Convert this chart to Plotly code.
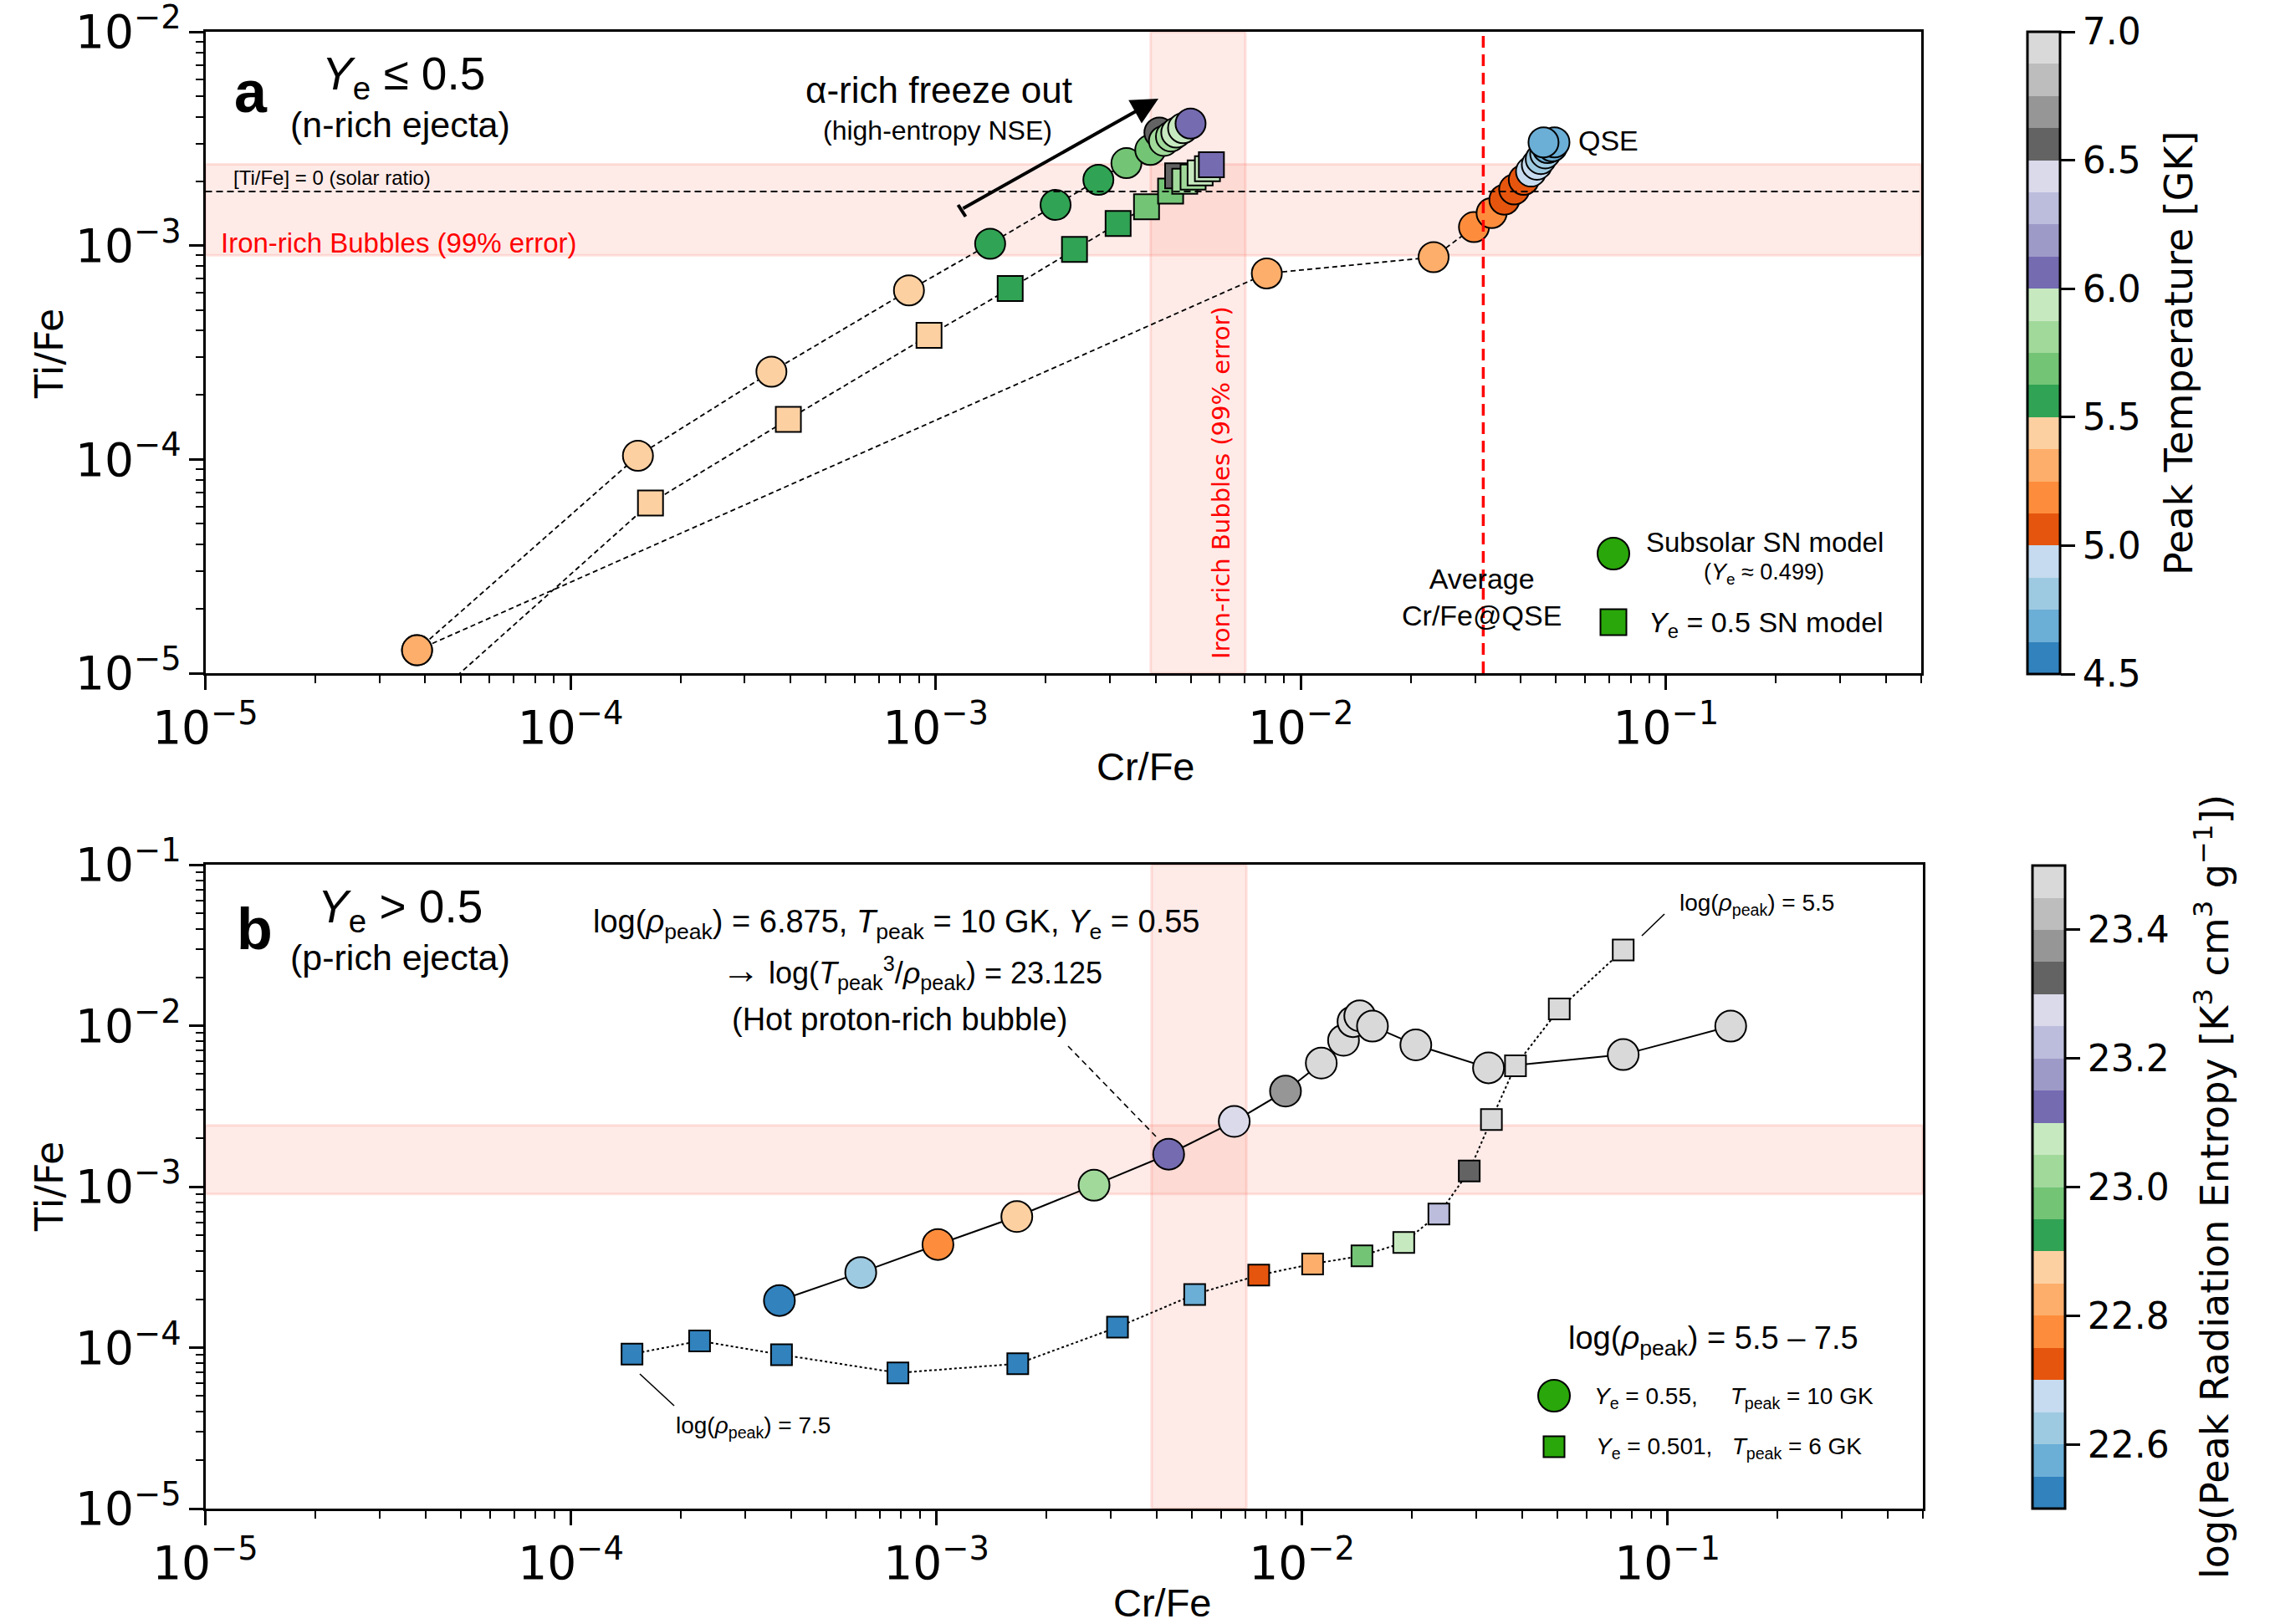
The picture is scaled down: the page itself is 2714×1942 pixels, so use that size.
import plotly.graph_objects as go

W, H = 2714, 1942

# ---------------- data ----------------
# Panel a: Ye <= 0.5
subsolar_crfe = [3.80e-5, 1.53e-4, 3.55e-4, 8.45e-4, 1.41e-3, 2.13e-3, 2.79e-3, 3.33e-3, 3.87e-3,
                 4.10e-3, 4.22e-3, 4.41e-3, 4.56e-3, 4.76e-3, 4.99e-3]
subsolar_tife = [1.28e-5, 1.04e-4, 2.57e-4, 6.17e-4, 1.02e-3, 1.55e-3, 2.03e-3, 2.43e-3, 2.80e-3,
                 3.38e-3, 3.09e-3, 3.24e-3, 3.38e-3, 3.54e-3, 3.72e-3]
subsolar_tpeak = [5.3, 5.45, 5.45, 5.45, 5.55, 5.55, 5.55, 5.7, 5.7, 6.55, 5.8, 5.8, 5.95, 5.95, 6.05]

ye05_crfe = [2.82e-5, 1.656e-4, 3.95e-4, 9.59e-4, 1.60e-3, 2.40e-3, 3.16e-3, 3.78e-3, 4.40e-3,
             4.60e-3, 4.81e-3, 5.07e-3, 5.30e-3, 5.55e-3, 5.69e-3]
ye05_tife = [4.2e-6, 6.25e-5, 1.54e-4, 3.80e-4, 6.30e-4, 9.59e-4, 1.27e-3, 1.52e-3, 1.80e-3,
             2.12e-3, 2.00e-3, 2.09e-3, 2.19e-3, 2.29e-3, 2.39e-3]
ye05_tpeak = [5.45, 5.45, 5.45, 5.45, 5.55, 5.55, 5.55, 5.7, 5.7, 6.55, 5.8, 5.8, 5.95, 5.95, 6.05]

qse_crfe = [3.80e-5, 8.07e-3, 0.0231, 0.0298, 0.0333, 0.0361, 0.0384, 0.0408, 0.0427, 0.0443,
            0.0454, 0.0467, 0.0474, 0.0488, 0.0495, 0.0462]
qse_tife = [1.28e-5, 7.41e-4, 8.83e-4, 1.22e-3, 1.42e-3, 1.64e-3, 1.83e-3, 2.03e-3, 2.22e-3, 2.39e-3,
            2.54e-3, 2.70e-3, 2.86e-3, 2.91e-3, 3.04e-3, 3.04e-3]
qse_tpeak = [5.3, 5.3, 5.3, 5.2, 5.2, 5.05, 5.05, 5.05, 4.9, 4.9, 4.8, 4.8, 4.7, 4.7, 4.7, 4.7]

# Panel b: Ye > 0.5
hot_crfe = [3.72e-4, 6.21e-4, 1.01e-3, 1.66e-3, 2.70e-3, 4.32e-3, 6.53e-3, 9.02e-3, 0.0113, 0.0130,
            0.0138, 0.0144, 0.0156, 0.0205, 0.0324, 0.0757, 0.149]
hot_tife = [1.96e-4, 2.93e-4, 4.37e-4, 6.52e-4, 1.02e-3, 1.59e-3, 2.54e-3, 3.92e-3, 5.85e-3, 8.11e-3,
            0.0106, 0.0115, 9.93e-3, 7.59e-3, 5.47e-3, 6.61e-3, 9.93e-3]
hot_entropy = [22.5, 22.625, 22.75, 22.875, 23.0, 23.125, 23.25, 23.375, 23.5, 23.625, 23.75,
               23.875, 24.0, 24.125, 24.25, 24.375, 24.5]

cool_crfe = [1.47e-4, 2.25e-4, 3.77e-4, 7.85e-4, 1.67e-3, 3.13e-3, 5.09e-3, 7.62e-3, 0.0107, 0.0146,
             0.0190, 0.0237, 0.0287, 0.0330, 0.0384, 0.0506, 0.0757]
cool_tife = [9.12e-5, 1.10e-4, 9.04e-5, 6.97e-5, 7.94e-5, 1.34e-4, 2.14e-4, 2.82e-4, 3.31e-4, 3.72e-4,
             4.50e-4, 6.76e-4, 1.25e-3, 2.61e-3, 5.64e-3, 0.0127, 0.0295]
cool_entropy = [21.834, 21.959, 22.084, 22.209, 22.334, 22.459, 22.584, 22.709, 22.834, 22.959,
                23.084, 23.209, 23.334, 23.459, 23.584, 23.709, 23.834]

# reference bands / lines
band_tife = [9.0e-4, 2.4e-3]
band_crfe = [3.88e-3, 7.05e-3]
solar_tife = 1.79e-3
qse_avg_crfe = 0.0316

tab20c = ['#3182bd', '#6baed6', '#9ecae1', '#c6dbef', '#e6550d', '#fd8d3c', '#fdae6b', '#fdd0a2',
          '#31a354', '#74c476', '#a1d99b', '#c7e9c0', '#756bb1', '#9e9ac8', '#bcbddc', '#dadaeb',
          '#636363', '#969696', '#bdbdbd', '#d9d9d9']

temp_ticks = [4.5, 5.0, 5.5, 6.0, 6.5, 7.0]
entropy_ticks = [22.6, 22.8, 23.0, 23.2, 23.4]

# ---------------- helpers ----------------
def X(p):
    return p / W


def Y(p):
    return 1 - p / H


def stepped(colors):
    n = len(colors)
    eps = 1e-4
    cs = []
    for k, c in enumerate(colors):
        lo = 0 if k == 0 else k / n - eps
        hi = 1 if k == n - 1 else (k + 1) / n - eps
        cs.append([lo, c])
        cs.append([hi, c])
    return cs


CS = stepped(tab20c)
SANS = 'Liberation Sans'
DV = 'DejaVu Sans'

fig = go.Figure()

dash_line = dict(color='black', width=1.8, dash='6px,4px')

# panel a lines
for xs, ys in [(subsolar_crfe, subsolar_tife), (ye05_crfe, ye05_tife), (qse_crfe, qse_tife)]:
    fig.add_trace(go.Scatter(x=xs, y=ys, mode='lines', line=dash_line, xaxis='x', yaxis='y',
                             hoverinfo='skip', showlegend=False))
# panel a markers
fig.add_trace(go.Scatter(x=subsolar_crfe, y=subsolar_tife, mode='markers', xaxis='x', yaxis='y',
                         marker=dict(symbol='circle', size=36, color=subsolar_tpeak, coloraxis='coloraxis',
                                     line=dict(color='black', width=2)), showlegend=False))
fig.add_trace(go.Scatter(x=ye05_crfe, y=ye05_tife, mode='markers', xaxis='x', yaxis='y',
                         marker=dict(symbol='square', size=30, color=ye05_tpeak, coloraxis='coloraxis',
                                     line=dict(color='black', width=2)), showlegend=False))
fig.add_trace(go.Scatter(x=qse_crfe, y=qse_tife, mode='markers', xaxis='x', yaxis='y',
                         marker=dict(symbol='circle', size=36, color=qse_tpeak, coloraxis='coloraxis',
                                     line=dict(color='black', width=2)), showlegend=False))

# panel b
fig.add_trace(go.Scatter(x=hot_crfe, y=hot_tife, mode='lines', xaxis='x2', yaxis='y2',
                         line=dict(color='black', width=2), hoverinfo='skip', showlegend=False))
fig.add_trace(go.Scatter(x=cool_crfe, y=cool_tife, mode='lines', xaxis='x2', yaxis='y2',
                         line=dict(color='black', width=2, dash='dot'), hoverinfo='skip', showlegend=False))
fig.add_trace(go.Scatter(x=hot_crfe, y=hot_tife, mode='markers', xaxis='x2', yaxis='y2',
                         marker=dict(symbol='circle', size=37, color=hot_entropy, coloraxis='coloraxis2',
                                     line=dict(color='black', width=2)), showlegend=False))
fig.add_trace(go.Scatter(x=cool_crfe, y=cool_tife, mode='markers', xaxis='x2', yaxis='y2',
                         marker=dict(symbol='square', size=25, color=cool_entropy, coloraxis='coloraxis2',
                                     line=dict(color='black', width=2)), showlegend=False))

# ---------------- axes ----------------
def axis_common():
    return dict(type='log', showgrid=False, zeroline=False, showline=True, linecolor='black', linewidth=3,
                mirror=True, ticks='outside', ticklen=17, tickwidth=3, tickcolor='black',
                dtick=1, exponentformat='power', showexponent='all', ticklabeloverflow='allow',
                tickfont=dict(family=DV, size=44, color='black'),
                minor=dict(ticks='outside', ticklen=9, tickwidth=2, tickcolor='black', dtick='D1'),
                automargin=False)


xa = axis_common()
xa.update(domain=[X(245.5), X(2297)], range=[-5, -0.301], anchor='y')
ya = axis_common()
ya.update(domain=[Y(805), Y(38)], range=[-5, -2], anchor='x')
xb = axis_common()
xb.update(domain=[X(245.5), X(2299)], range=[-5, -0.301], anchor='y2')
yb = axis_common()
yb.update(domain=[Y(1804), Y(1034)], range=[-5, -1], anchor='x2')

cb_common = dict(thickness=39, thicknessmode='pixels', lenmode='fraction', xanchor='left', yanchor='top',
                 xpad=0, ypad=0, outlinecolor='black', outlinewidth=3, ticks='outside', ticklen=17,
                 tickwidth=3, tickcolor='black', tickfont=dict(family=DV, size=44, color='black'),
                 tickformat='.1f')

cb1 = dict(cb_common)
cb1.update(x=X(2424), y=Y(38), len=(806 - 38) / H, tickvals=temp_ticks)
cb2 = dict(cb_common)
cb2.update(x=X(2430), y=Y(1035), len=(1804 - 1035) / H, tickvals=entropy_ticks)

# ---------------- shapes ----------------
band_fill = 'rgba(250,128,114,0.16)'
band_edge = 'rgba(250,128,114,0.22)'
shapes = []
for xr, yr in [('x', 'y'), ('x2', 'y2')]:
    shapes.append(dict(type='rect', xref=xr + ' domain', yref=yr, x0=0, x1=1, y0=band_tife[0], y1=band_tife[1],
                       fillcolor=band_fill, line=dict(color=band_edge, width=3), layer='below'))
    shapes.append(dict(type='rect', xref=xr, yref=yr + ' domain', x0=band_crfe[0], x1=band_crfe[1], y0=0, y1=1,
                       fillcolor=band_fill, line=dict(color=band_edge, width=3), layer='below'))
shapes.append(dict(type='line', xref='x domain', yref='y', x0=0, x1=1, y0=solar_tife, y1=solar_tife,
                   line=dict(color='black', width=2.2, dash='8px,5px')))
shapes.append(dict(type='line', xref='x', yref='y domain', x0=qse_avg_crfe, x1=qse_avg_crfe, y0=0, y1=1,
                   line=dict(color='#ff0000', width=3.5, dash='14px,8px')))


def pline(x0, y0, x1, y1, width=1.8, dash='solid'):
    return dict(type='line', xref='paper', yref='paper', x0=X(x0), y0=Y(y0), x1=X(x1), y1=Y(y1),
                line=dict(color='black', width=width, dash=dash))


shapes.append(pline(1145.5, 245, 1154.5, 259, width=4))          # arrow tail bar
shapes.append(pline(1277, 1251, 1382, 1359, width=1.6, dash='7px,5px'))
shapes.append(pline(765, 1643, 806, 1681, width=1.6))
shapes.append(pline(1963, 1119, 1990, 1093, width=1.6))


def glyph(kind, cx, cy, size):
    h = size / 2
    return dict(type=kind, xref='paper', yref='paper', xsizemode='pixel', ysizemode='pixel',
                xanchor=X(cx), yanchor=Y(cy), x0=-h, x1=h, y0=-h, y1=h,
                fillcolor='#2aa70a', line=dict(color='black', width=2))


shapes.append(glyph('circle', 1929, 662, 38))
shapes.append(glyph('rect', 1929, 744, 31))
shapes.append(glyph('circle', 1858, 1669, 38))
shapes.append(glyph('rect', 1858, 1730, 25))

# ---------------- annotations ----------------
annotations = []


def txt(text, x, y, size, family=SANS, color='black', xanchor='center', angle=0, bold=False):
    annotations.append(dict(text=('<b>%s</b>' % text) if bold else text, x=X(x), y=Y(y), xref='paper',
                            yref='paper', showarrow=False, xanchor=xanchor, yanchor='middle',
                            textangle=angle, font=dict(family=family, size=size, color=color)))


YE = '<i>Y</i><sub>e</sub>'
RHO = 'log(<i>\u03c1</i><sub>peak</sub>)'
TP = '<i>T</i><sub>peak</sub>'
NB = '\u00a0'

# axis / colorbar titles
txt('Cr/Fe', 1370, 916, 47)
txt('Cr/Fe', 1390, 1916, 47)
txt('Ti/Fe', 59, 423, 46, family=DV, angle=-90)
txt('Ti/Fe', 59, 1419, 46, family=DV, angle=-90)
txt('Peak Temperature [GK]', 2605, 422, 46, family=DV, angle=-90)
txt('log(Peak Radiation Entropy [K<sup>3</sup> cm<sup>3</sup> g<sup>\u22121</sup>])', 2645, 1419, 46,
    family=DV, angle=-90)

# panel a
txt('a', 300, 110, 70, bold=True)
txt(YE + ' \u2264 0.5', 482, 92, 55)
txt('(n-rich ejecta)', 478, 149, 43)
txt('\u03b1-rich freeze out', 1122, 108, 44)
txt('(high-entropy NSE)', 1121, 156, 32)
txt('[Ti/Fe] = 0 (solar ratio)', 277, 213, 24, xanchor='left')
txt('Iron-rich Bubbles (99% error)', 262, 290, 33, color='#ff0000', xanchor='left')
txt('Iron-rich Bubbles (99% error)', 1460, 577, 29, family=DV, color='#ff0000', angle=-90)
txt('QSE', 1923, 168, 34)
txt('Average<br>Cr/Fe@QSE', 1771, 714, 34)
txt('Subsolar SN model', 2110, 648, 33)
txt('(' + YE + ' \u2248 0.499)', 2109, 686, 27)
txt(YE + ' = 0.5 SN model', 2111, 746, 34)

annotations.append(dict(x=X(1385), y=Y(118), xref='paper', yref='paper', ax=-235, ay=132,
                        axref='pixel', ayref='pixel', showarrow=True, arrowhead=2, arrowsize=1.6,
                        arrowwidth=4, arrowcolor='black', text=''))

# panel b
txt('b', 304, 1111, 70, bold=True)
txt(YE + ' > 0.5', 478, 1088, 55)
txt('(p-rich ejecta)', 478, 1145, 43)
txt(RHO + ' = 6.875, ' + TP + ' = 10 GK, ' + YE + ' = 0.55', 1071, 1105, 38)
txt('<span style="font-size:46px">\u2192</span> log(' + TP + '<sup>3</sup>/<i>\u03c1</i><sub>peak</sub>) = 23.125',
    1090, 1161, 36)
txt('(Hot proton-rich bubble)', 1075, 1219, 38)
txt(RHO + ' = 7.5', 900, 1706, 28)
txt(RHO + ' = 5.5', 2100, 1081, 28)
txt(RHO + ' = 5.5 \u2013 7.5', 2048, 1603, 38)
txt(YE + ' = 0.55,' + NB * 5 + TP + ' = 10 GK', 2073, 1671, 28)
txt(YE + ' = 0.501,' + NB * 3 + TP + ' = 6 GK', 2067, 1731, 28)

fig.update_layout(
    width=W, height=H, margin=dict(l=0, r=0, t=0, b=0),
    paper_bgcolor='white', plot_bgcolor='white',
    xaxis=xa, yaxis=ya, xaxis2=xb, yaxis2=yb,
    coloraxis=dict(colorscale=CS, cmin=4.5, cmax=7.0, colorbar=cb1),
    coloraxis2=dict(colorscale=CS, cmin=22.5, cmax=23.5, colorbar=cb2),
    shapes=shapes, annotations=annotations, showlegend=False,
)

fig.write_html('out.html')
